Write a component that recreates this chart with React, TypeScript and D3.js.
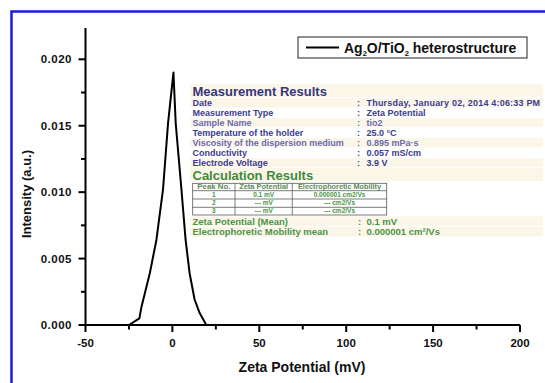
import React from "react";
import * as d3 from "d3";

// ---------- data ----------
const zeta = [-25, -19, -17.8, -13, -9.2, -5.4, -2.5, 0.6, 1.9, 5.2, 7.6, 9.9, 12.8, 15.7, 19.5];
const intensity = [0, 0.0005, 0.00136, 0.0039, 0.0064, 0.0102, 0.0152, 0.019, 0.0152, 0.0102, 0.0064, 0.0039, 0.0019, 0.0009, 0];

const xMajorTicks = [-50, 0, 50, 100, 150, 200];
const xMinorTicks = [-25, 25, 75, 125, 175];
const yMajorTicks = [0, 0.005, 0.01, 0.015, 0.02];
const yMinorTicks = [0.0025, 0.0075, 0.0125, 0.0175];

const legendLabel = ["Ag", "2", "O/TiO", "2", " heterostructure"];

const measLabels = [
  "Date",
  "Measurement Type",
  "Sample Name",
  "Temperature of the holder",
  "Viscosity of the dispersion medium",
  "Conductivity",
  "Electrode Voltage",
];
const measValues = [
  "Thursday, January 02, 2014 4:06:33 PM",
  "Zeta Potential",
  "tio2",
  "25.0 °C",
  "0.895 mPa·s",
  "0.057 mS/cm",
  "3.9 V",
];
const tableHeader = ["Peak No.", "Zeta Potential", "Electrophoretic Mobility"];
const tableRows = [
  ["1", "0.1 mV", "0.000001 cm2/Vs"],
  ["2", "--- mV", "--- cm2/Vs"],
  ["3", "--- mV", "--- cm2/Vs"],
];
const meanLabels = ["Zeta Potential (Mean)", "Electrophoretic Mobility mean"];
const meanValues = ["0.1 mV", "0.000001 cm²/Vs"];

// ---------- layout ----------
const W = 545;
const H = 383;
const FONT = "Liberation Sans, Arial, Helvetica, sans-serif";
const NAVY = "#3c3c8e";
const GREEN = "#4b9448";

export default function App() {
  const x = d3.scaleLinear().domain([-50, 200]).range([85.5, 520]);
  const y = d3.scaleLinear().domain([0, 0.02]).range([325, 59.3]);
  const yTop = 0.02236;
  const pts: [number, number][] = zeta.map((z, i) => [z, intensity[i]]);
  const line = d3
    .line<[number, number]>()
    .x((d) => x(d[0]))
    .y((d) => y(d[1]))
    .curve(d3.curveLinear);

  const labelX = 192.5;
  const colonX = 357;
  const valueX = 366.5;
  const rowY = (i: number) => 102.7 + 10 * i;

  const tLeft = 192.7;
  const tRight = 386.7;
  const cols = [tLeft, 235, 292.3, tRight];
  const rowsY = [183.3, 190.7, 199, 207.3, 215];
  const headerLens = [33, 49, 83];

  return (
    <svg
      width={W}
      height={H}
      style={{ position: "absolute", left: 0, top: 0, background: "#fff" }}
      fontFamily={FONT}
    >
      {/* blue frame */}
      <path d={`M${W} 11.5 H11.5 V${H}`} fill="none" stroke="#1c1cd8" strokeWidth={2.5} />

      {/* info panel backgrounds */}
      <g fill="#fbf6e8">
        <rect x={190} y={84} width={353} height={13} />
        {[0, 2, 4, 6].map((i) => (
          <rect key={i} x={190} y={rowY(i) - 4.6} width={353} height={9.2} />
        ))}
        <rect x={190} y={168} width={353} height={13} />
        <rect x={190} y={216.5} width={353} height={9.5} />
        <rect x={190} y={227} width={353} height={9.5} />
      </g>

      {/* Measurement Results */}
      <text x={labelX} y={95.5} fontSize={13} fontWeight="bold" fill="#36367c">
        Measurement Results
      </text>
      {measLabels.map((l, i) => (
        <g key={l} fontSize={9} fontWeight="bold" fill={i === 2 || i === 4 ? "#6a6ab0" : NAVY}>
          <text x={labelX} y={rowY(i) + 3.2}>{l}</text>
          <text x={colonX} y={rowY(i) + 3.2}>:</text>
          <text x={valueX} y={rowY(i) + 3.2} letterSpacing={i === 0 ? 0.2 : 0}>{measValues[i]}</text>
        </g>
      ))}

      {/* Calculation Results */}
      <text x={labelX} y={179.8} fontSize={13} fontWeight="bold" fill="#3f8a3c">
        Calculation Results
      </text>
      <g stroke="#5a5a5a" strokeWidth={0.8} fill="none">
        <rect x={tLeft} y={rowsY[0]} width={tRight - tLeft} height={rowsY[4] - rowsY[0]} />
        {rowsY.slice(1, 4).map((ry) => (
          <line key={ry} x1={tLeft} x2={tRight} y1={ry} y2={ry} />
        ))}
        {cols.slice(1, 3).map((cx) => (
          <line key={cx} x1={cx} x2={cx} y1={rowsY[0]} y2={rowsY[4]} />
        ))}
      </g>
      {tableHeader.map((h, c) => (
        <text
          key={h}
          x={(cols[c] + cols[c + 1]) / 2}
          y={189.4}
          fontSize={6.3}
          fontWeight="bold"
          fill="#5b8a56"
          textAnchor="middle"
          textLength={headerLens[c]}
          lengthAdjust="spacingAndGlyphs"
        >
          {h}
        </text>
      ))}
      {tableRows.map((r, ri) =>
        r.map((cell, c) => (
          <text
            key={ri + "-" + c}
            x={(cols[c] + cols[c + 1]) / 2}
            y={(rowsY[ri + 1] + rowsY[ri + 2]) / 2 + 2.3}
            fontSize={6.5}
            fontWeight="bold"
            fill={GREEN}
            textAnchor="middle"
          >
            {cell}
          </text>
        ))
      )}
      {meanLabels.map((l, i) => (
        <g key={l} fontSize={9.5} fontWeight="bold" fill={GREEN}>
          <text x={labelX} y={224.5 + i * 10.7}>{l}</text>
          <text x={colonX + 1} y={224.5 + i * 10.7}>:</text>
          <text x={valueX} y={224.5 + i * 10.7}>{meanValues[i]}</text>
        </g>
      ))}

      {/* axes */}
      <g stroke="#000" strokeWidth={2} fill="none">
        <line x1={x(-50)} x2={x(-50)} y1={y(yTop)} y2={y(0) + 1} />
        <line x1={x(-50) - 1} x2={x(200)} y1={y(0)} y2={y(0)} />
        {xMajorTicks.map((t) => (
          <line key={t} x1={x(t)} x2={x(t)} y1={y(0)} y2={y(0) + 7} />
        ))}
        {xMinorTicks.map((t) => (
          <line key={t} x1={x(t)} x2={x(t)} y1={y(0)} y2={y(0) + 4.5} />
        ))}
        {yMajorTicks.map((t) => (
          <line key={t} x1={x(-50) - 7} x2={x(-50)} y1={y(t)} y2={y(t)} />
        ))}
        {yMinorTicks.map((t) => (
          <line key={t} x1={x(-50) - 4.5} x2={x(-50)} y1={y(t)} y2={y(t)} />
        ))}
      </g>
      <g fontSize={11.5} fontWeight="bold" fill="#111">
        {xMajorTicks.map((t) => (
          <text key={t} x={x(t)} y={347} textAnchor="middle">
            {String(t)}
          </text>
        ))}
        {yMajorTicks.map((t) => (
          <text key={t} x={72} y={y(t) + 4} textAnchor="end" letterSpacing={0.5}>
            {d3.format(".3f")(t)}
          </text>
        ))}
      </g>
      <text x={302} y={372} fontSize={14} fontWeight="bold" textAnchor="middle" fill="#111">
        Zeta Potential (mV)
      </text>
      <text
        transform="translate(31,194) rotate(-90)"
        fontSize={13}
        fontWeight="bold"
        textAnchor="middle"
        fill="#111"
      >
        Intensity (a.u.)
      </text>

      {/* curve */}
      <path d={line(pts) || ""} fill="none" stroke="#000" strokeWidth={2} strokeLinejoin="round" />

      {/* legend */}
      <rect x={298} y={37} width={229} height={21} fill="#fff" stroke="#222" strokeWidth={1} />
      <line x1={306} x2={339} y1={47.5} y2={47.5} stroke="#000" strokeWidth={2} />
      <text x={344} y={52.5} fontSize={14} fontWeight="bold" fill="#111">
        {legendLabel[0]}
        <tspan fontSize={7.5} dy={3}>{legendLabel[1]}</tspan>
        <tspan dy={-3}>{legendLabel[2]}</tspan>
        <tspan fontSize={7.5} dy={3}>{legendLabel[3]}</tspan>
        <tspan dy={-3}>{legendLabel[4]}</tspan>
      </text>
    </svg>
  );
}
